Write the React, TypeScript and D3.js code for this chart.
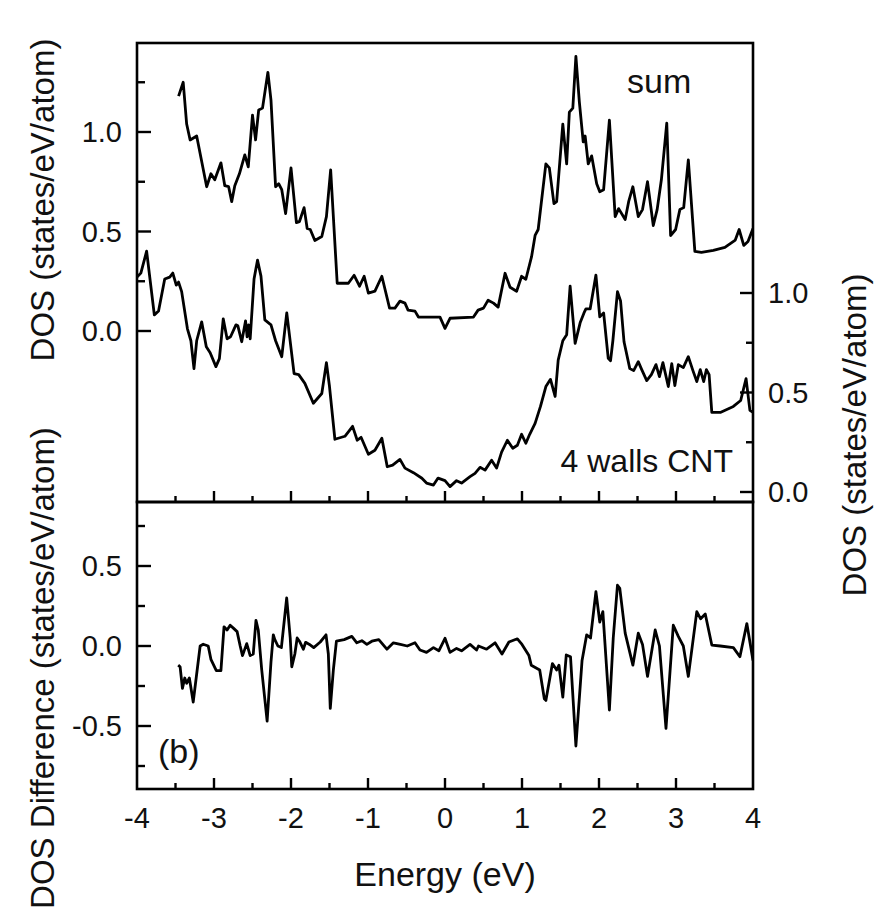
import * as d3 from 'd3'
import { useRef, useEffect } from 'react'

const W = 879, H = 908
const X0 = 137, X1 = 753
const TOP = 43, MID = 502, BOT = 789

// energy (eV), DOS (states/eV/atom)
const sumDos: [number, number][] = [
  [-3.46, 1.18], [-3.4, 1.25], [-3.355, 1.04], [-3.31, 0.96], [-3.225, 0.98], [-3.095, 0.725], [-3.04, 0.79],
  [-2.99, 0.76], [-2.91, 0.845], [-2.86, 0.73], [-2.81, 0.725], [-2.77, 0.65], [-2.73, 0.73], [-2.67, 0.79],
  [-2.6, 0.885], [-2.555, 0.825], [-2.5, 1.085], [-2.46, 0.96], [-2.42, 1.11], [-2.37, 1.12], [-2.3, 1.3],
  [-2.26, 1.16], [-2.2, 0.725], [-2.16, 0.74], [-2.12, 0.71], [-2.07, 0.59], [-2.0, 0.82], [-1.93, 0.545],
  [-1.89, 0.55], [-1.83, 0.62], [-1.79, 0.515], [-1.75, 0.51], [-1.69, 0.455], [-1.6, 0.475], [-1.54, 0.575],
  [-1.485, 0.81], [-1.4, 0.24], [-1.255, 0.24], [-1.18, 0.28], [-1.11, 0.225], [-1.05, 0.275], [-0.995, 0.19],
  [-0.91, 0.2], [-0.82, 0.275], [-0.72, 0.115], [-0.65, 0.115], [-0.585, 0.15], [-0.52, 0.14], [-0.48, 0.105],
  [-0.39, 0.1], [-0.345, 0.07], [-0.065, 0.07], [0.0, 0.013], [0.065, 0.064], [0.37, 0.07], [0.43, 0.105],
  [0.5, 0.115], [0.56, 0.155], [0.63, 0.14], [0.69, 0.12], [0.78, 0.29], [0.845, 0.22], [0.93, 0.2],
  [0.995, 0.275], [1.05, 0.26], [1.125, 0.375], [1.17, 0.48], [1.21, 0.51], [1.31, 0.84], [1.355, 0.82],
  [1.415, 0.64], [1.45, 0.65], [1.53, 1.04], [1.58, 0.84], [1.615, 1.1], [1.66, 1.12], [1.7, 1.38],
  [1.745, 1.15], [1.795, 0.95], [1.82, 0.98], [1.86, 0.84], [1.905, 0.88], [1.97, 0.74], [2.01, 0.7],
  [2.06, 0.71], [2.135, 1.06], [2.21, 0.575], [2.255, 0.615], [2.34, 0.56], [2.385, 0.65], [2.44, 0.725],
  [2.51, 0.575], [2.565, 0.61], [2.63, 0.75], [2.705, 0.53], [2.755, 0.61], [2.81, 0.76], [2.88, 1.045],
  [2.93, 0.48], [2.995, 0.51], [3.05, 0.61], [3.1, 0.62], [3.16, 0.86], [3.245, 0.4], [3.33, 0.395],
  [3.485, 0.405], [3.635, 0.42], [3.77, 0.457], [3.82, 0.51], [3.88, 0.43], [3.935, 0.45], [4.0, 0.515],
]

const cntDos: [number, number][] = [
  [-4.0, 1.08], [-3.95, 1.1], [-3.875, 1.21], [-3.775, 0.89], [-3.72, 0.91], [-3.64, 1.07], [-3.575, 1.08],
  [-3.535, 1.1], [-3.49, 1.04], [-3.46, 1.055], [-3.42, 1.007], [-3.345, 0.82], [-3.3, 0.76], [-3.26, 0.62],
  [-3.225, 0.76], [-3.16, 0.855], [-3.1, 0.73], [-3.05, 0.7], [-2.975, 0.63], [-2.93, 0.67], [-2.88, 0.87],
  [-2.83, 0.77], [-2.785, 0.78], [-2.715, 0.84], [-2.69, 0.835], [-2.64, 0.755], [-2.59, 0.86], [-2.57, 0.78],
  [-2.55, 0.84], [-2.53, 0.77], [-2.48, 1.07], [-2.435, 1.165], [-2.39, 1.085], [-2.34, 0.865], [-2.26, 0.84],
  [-2.2, 0.76], [-2.12, 0.68], [-2.055, 0.9], [-1.96, 0.595], [-1.9, 0.59], [-1.82, 0.546], [-1.71, 0.446],
  [-1.6, 0.495], [-1.54, 0.65], [-1.5, 0.53], [-1.43, 0.265], [-1.3, 0.28], [-1.2, 0.33], [-1.14, 0.26],
  [-1.09, 0.275], [-0.995, 0.19], [-0.91, 0.21], [-0.82, 0.27], [-0.75, 0.127], [-0.68, 0.135], [-0.585, 0.164],
  [-0.52, 0.12], [-0.41, 0.097], [-0.3, 0.069], [-0.24, 0.045], [-0.15, 0.035], [-0.09, 0.07], [0.0, 0.057],
  [0.065, 0.027], [0.15, 0.057], [0.215, 0.045], [0.325, 0.077], [0.39, 0.094], [0.455, 0.124], [0.52, 0.11],
  [0.605, 0.16], [0.67, 0.12], [0.735, 0.2], [0.81, 0.26], [0.88, 0.22], [0.94, 0.235], [0.995, 0.29],
  [1.05, 0.245], [1.1, 0.29], [1.17, 0.345], [1.24, 0.43], [1.31, 0.53], [1.37, 0.566], [1.43, 0.48],
  [1.47, 0.663], [1.53, 0.76], [1.58, 0.79], [1.625, 1.035], [1.69, 0.747], [1.755, 0.85], [1.805, 0.9],
  [1.83, 0.92], [1.885, 0.92], [1.96, 1.09], [2.01, 0.88], [2.06, 0.9], [2.12, 0.672], [2.15, 0.66],
  [2.18, 0.76], [2.24, 1.007], [2.28, 0.96], [2.325, 0.755], [2.4, 0.62], [2.45, 0.61], [2.51, 0.655],
  [2.555, 0.615], [2.62, 0.56], [2.68, 0.59], [2.74, 0.64], [2.785, 0.58], [2.83, 0.65], [2.9, 0.53],
  [2.945, 0.645], [2.985, 0.535], [3.03, 0.64], [3.095, 0.625], [3.16, 0.68], [3.22, 0.61], [3.27, 0.555],
  [3.315, 0.615], [3.36, 0.555], [3.395, 0.615], [3.43, 0.59], [3.465, 0.4], [3.575, 0.4], [3.745, 0.43],
  [3.84, 0.46], [3.91, 0.57], [3.96, 0.41], [4.0, 0.4],
]

const diffDos: [number, number][] = [
  [-3.465, -0.12], [-3.44, -0.13], [-3.41, -0.265], [-3.38, -0.2], [-3.355, -0.233], [-3.32, -0.2], [-3.27, -0.35],
  [-3.18, 0.0], [-3.14, 0.011], [-3.075, 0.0], [-3.04, -0.083], [-2.97, -0.154], [-2.91, -0.154], [-2.87, 0.12],
  [-2.83, 0.1], [-2.79, 0.13], [-2.745, 0.11], [-2.7, 0.09], [-2.66, 0.0], [-2.63, -0.06], [-2.575, 0.015],
  [-2.53, -0.06], [-2.49, -0.05], [-2.455, 0.16], [-2.425, 0.1], [-2.38, -0.15], [-2.31, -0.47], [-2.26, -0.1],
  [-2.23, 0.07], [-2.21, 0.04], [-2.17, 0.0], [-2.125, -0.01], [-2.056, 0.3], [-2.01, 0.05], [-1.99, -0.13],
  [-1.95, -0.05], [-1.92, 0.05], [-1.89, 0.03], [-1.84, -0.02], [-1.81, 0.023], [-1.76, 0.01], [-1.705, -0.01],
  [-1.62, 0.025], [-1.545, 0.07], [-1.515, -0.05], [-1.49, -0.39], [-1.45, -0.15], [-1.41, 0.03], [-1.31, 0.04],
  [-1.21, 0.06], [-1.145, 0.02], [-1.08, 0.033], [-1.015, 0.01], [-0.95, 0.03], [-0.86, 0.04], [-0.755, -0.02],
  [-0.67, 0.02], [-0.58, 0.01], [-0.49, 0.0], [-0.39, 0.02], [-0.325, -0.025], [-0.24, -0.04], [-0.15, -0.01],
  [-0.08, -0.03], [0.0, 0.048], [0.065, -0.04], [0.15, -0.015], [0.215, -0.03], [0.325, 0.01], [0.41, -0.025],
  [0.435, 0.0], [0.54, -0.02], [0.65, 0.02], [0.74, -0.05], [0.83, 0.025], [0.94, 0.045], [1.0, 0.01],
  [1.09, -0.06], [1.12, -0.12], [1.23, -0.15], [1.29, -0.33], [1.31, -0.34], [1.395, -0.11], [1.45, -0.15],
  [1.48, -0.12], [1.53, -0.32], [1.575, -0.056], [1.63, -0.067], [1.7, -0.625], [1.78, -0.09], [1.84, 0.07],
  [1.89, 0.05], [1.96, 0.34], [2.01, 0.15], [2.05, 0.215], [2.135, -0.4], [2.185, 0.05], [2.24, 0.38],
  [2.27, 0.36], [2.34, 0.08], [2.44, -0.12], [2.51, 0.08], [2.565, 0.01], [2.63, -0.19], [2.73, 0.1],
  [2.785, 0.0], [2.87, -0.515], [2.965, 0.13], [3.03, 0.06], [3.095, 0.0], [3.16, -0.19], [3.27, 0.215],
  [3.32, 0.17], [3.38, 0.2], [3.465, 0.006], [3.575, 0.0], [3.745, -0.01], [3.83, -0.067], [3.92, 0.14],
  [4.0, -0.09],
]

const xTicks = [-4, -3, -2, -1, 0, 1, 2, 3, 4]
const xMinor = [-3.5, -2.5, -1.5, -0.5, 0.5, 1.5, 2.5, 3.5]
const leftTicks = [0, 0.5, 1.0]
const leftMinor = [0.25, 0.75, 1.25]
const rightTicks = [0, 0.5, 1.0]
const rightMinor = [0.25, 0.75]
const diffTicks = [-0.5, 0, 0.5]
const diffMinor = [-0.75, -0.25, 0.25, 0.75]

const FONT = 'Arial, "Liberation Sans", Helvetica, sans-serif'

export default function App() {
  const svgRef = useRef<SVGSVGElement>(null)

  useEffect(() => {
    const svg = d3.select(svgRef.current)
    svg.selectAll('*').remove()

    const x = d3.scaleLinear().domain([-4, 4]).range([X0, X1])
    const yL = d3.scaleLinear().domain([0, 1]).range([331, 132])
    const yR = d3.scaleLinear().domain([0, 1]).range([492, 293])
    const yD = d3.scaleLinear().domain([0, 0.5]).range([646, 566])

    const clipTop = svg.append('clipPath').attr('id', 'clipTop')
    clipTop.append('rect').attr('x', X0).attr('y', TOP).attr('width', X1 - X0).attr('height', MID - TOP)
    const clipBot = svg.append('clipPath').attr('id', 'clipBot')
    clipBot.append('rect').attr('x', X0).attr('y', MID).attr('width', X1 - X0).attr('height', BOT - MID)

    const lineL = d3.line<[number, number]>().x(d => x(d[0])).y(d => yL(d[1]))
    const lineR = d3.line<[number, number]>().x(d => x(d[0])).y(d => yR(d[1]))
    const lineD = d3.line<[number, number]>().x(d => x(d[0])).y(d => yD(d[1]))

    const curve = (data: [number, number][], gen: d3.Line<[number, number]>, clip: string) =>
      svg.append('path').datum(data).attr('d', gen).attr('fill', 'none').attr('stroke', '#000')
        .attr('stroke-width', 2.8).attr('stroke-linejoin', 'round').attr('clip-path', `url(#${clip})`)

    curve(sumDos, lineL, 'clipTop')
    curve(cntDos, lineR, 'clipTop')
    curve(diffDos, lineD, 'clipBot')

    // frames
    const frame = svg.append('g').attr('fill', 'none').attr('stroke', '#000').attr('stroke-width', 2.6)
    frame.append('rect').attr('x', X0).attr('y', TOP).attr('width', X1 - X0).attr('height', MID - TOP)
    frame.append('rect').attr('x', X0).attr('y', MID).attr('width', X1 - X0).attr('height', BOT - MID)

    const ticks = svg.append('g').attr('stroke', '#000').attr('stroke-width', 2.4)
    // x ticks on both panel bottoms, pointing up
    for (const yb of [MID, BOT]) {
      xTicks.slice(1, -1).forEach(t => ticks.append('line').attr('x1', x(t)).attr('x2', x(t)).attr('y1', yb).attr('y2', yb - 11))
      xMinor.forEach(t => ticks.append('line').attr('x1', x(t)).attr('x2', x(t)).attr('y1', yb).attr('y2', yb - 6))
    }
    leftTicks.forEach(t => ticks.append('line').attr('x1', X0).attr('x2', X0 + 14).attr('y1', yL(t)).attr('y2', yL(t)))
    leftMinor.forEach(t => ticks.append('line').attr('x1', X0).attr('x2', X0 + 8).attr('y1', yL(t)).attr('y2', yL(t)))
    rightTicks.forEach(t => ticks.append('line').attr('x1', X1).attr('x2', X1 - 13).attr('y1', yR(t)).attr('y2', yR(t)))
    rightMinor.forEach(t => ticks.append('line').attr('x1', X1).attr('x2', X1 - 7).attr('y1', yR(t)).attr('y2', yR(t)))
    diffTicks.forEach(t => ticks.append('line').attr('x1', X0).attr('x2', X0 + 14).attr('y1', yD(t)).attr('y2', yD(t)))
    diffMinor.forEach(t => ticks.append('line').attr('x1', X0).attr('x2', X0 + 8).attr('y1', yD(t)).attr('y2', yD(t)))

    const txt = svg.append('g').attr('font-family', FONT).attr('fill', '#111')
    leftTicks.forEach(t => txt.append('text').attr('x', X0 - 15).attr('y', yL(t)).attr('dy', '0.36em')
      .attr('text-anchor', 'end').attr('font-size', 29).text(t.toFixed(1)))
    rightTicks.forEach(t => txt.append('text').attr('x', X1 + 15).attr('y', yR(t)).attr('dy', '0.36em')
      .attr('font-size', 29).text(t.toFixed(1)))
    diffTicks.forEach(t => txt.append('text').attr('x', X0 - 15).attr('y', yD(t)).attr('dy', '0.36em')
      .attr('text-anchor', 'end').attr('font-size', 29).text(t.toFixed(1)))
    xTicks.forEach(t => txt.append('text').attr('x', x(t)).attr('y', 828)
      .attr('text-anchor', 'middle').attr('font-size', 29).text(t))

    txt.append('text').attr('x', (X0 + X1) / 2).attr('y', 886).attr('text-anchor', 'middle')
      .attr('font-size', 34).text('Energy (eV)')
    txt.append('text').attr('transform', 'translate(54,200) rotate(-90)').attr('text-anchor', 'middle')
      .attr('font-size', 33).text('DOS (states/eV/atom)')
    txt.append('text').attr('transform', 'translate(54,668) rotate(-90)').attr('text-anchor', 'middle')
      .attr('font-size', 33).text('DOS Difference (states/eV/atom)')
    txt.append('text').attr('transform', 'translate(866,435) rotate(-90)').attr('text-anchor', 'middle')
      .attr('font-size', 33).text('DOS (states/eV/atom)')

    txt.append('text').attr('x', 627).attr('y', 93).attr('font-size', 34).text('sum')
    txt.append('text').attr('x', 733).attr('y', 472).attr('text-anchor', 'end').attr('font-size', 32).text('4 walls CNT')
    txt.append('text').attr('x', 158).attr('y', 763).attr('font-size', 34).text('(b)')
  }, [])

  return (
    <svg ref={svgRef} width={W} height={H} viewBox={`0 0 ${W} ${H}`}
      style={{ position: 'absolute', left: 0, top: 0, background: '#fff' }} />
  )
}
